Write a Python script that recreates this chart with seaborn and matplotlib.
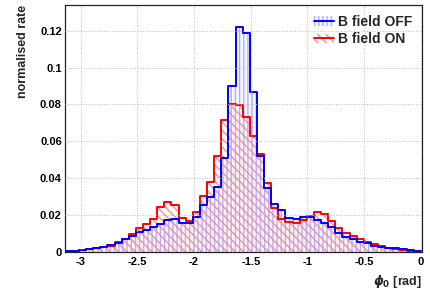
import numpy as np
import matplotlib
matplotlib.use("Agg")
import matplotlib.pyplot as plt
import seaborn as sns
from matplotlib.patches import Patch
from matplotlib.lines import Line2D
from matplotlib.legend_handler import HandlerTuple
from matplotlib.ticker import MultipleLocator, FormatStrFormatter

# 50 bins over [-pi, 0]
n_bins = 50
edges = list(np.linspace(-np.pi, 0, n_bins + 1))
centers = [0.5 * (a + b) for a, b in zip(edges[:-1], edges[1:])]

rate_off = [0.0002, 0.0004, 0.0008, 0.0012, 0.0018, 0.0023, 0.0035, 0.0048, 0.0066, 0.0084,
            0.0105, 0.0120, 0.0135, 0.0150, 0.0172, 0.0176, 0.0158, 0.0155, 0.0190, 0.0253,
            0.0295, 0.0349, 0.0506, 0.0901, 0.1218, 0.1188, 0.0869, 0.0520, 0.0347, 0.0257,
            0.0226, 0.0185, 0.0178, 0.0186, 0.0186, 0.0172, 0.0153, 0.0131, 0.0099, 0.0080,
            0.0066, 0.0053, 0.0045, 0.0032, 0.0027, 0.0020, 0.0017, 0.0012, 0.0008, 0.0004]

rate_on = [0.0003, 0.0005, 0.0009, 0.0015, 0.0022, 0.0025, 0.0033, 0.0050, 0.0066, 0.0094,
           0.0130, 0.0149, 0.0176, 0.0244, 0.0272, 0.0253, 0.0180, 0.0168, 0.0215, 0.0302,
           0.0380, 0.0517, 0.0715, 0.0803, 0.0795, 0.0733, 0.0630, 0.0530, 0.0371, 0.0235,
           0.0175, 0.0162, 0.0157, 0.0171, 0.0195, 0.0216, 0.0202, 0.0166, 0.0126, 0.0102,
           0.0086, 0.0068, 0.0053, 0.0041, 0.0030, 0.0022, 0.0015, 0.0010, 0.0005, 0.0003]

labels = ["B field OFF", "B field ON"]

sns.set_style("white")
plt.rcParams["font.family"] = ["Liberation Sans", "DejaVu Sans"]
plt.rcParams["font.weight"] = "bold"
plt.rcParams["mathtext.fontset"] = "dejavusans"

fig = plt.figure(figsize=(4.31, 2.96), dpi=100)
ax = fig.add_axes([0.150, 0.150, 0.829, 0.833])

hatch_on = "#ff8c8c"
hatch_off = "#b0b0ff"
fill_off = (0.94, 0.94, 1.0, 0.6)

# hatched fills (blue underneath, red hatch over it)
sns.histplot(x=centers, weights=rate_off, bins=edges, element="step", fill=True,
             color=hatch_off, facecolor=fill_off, edgecolor=hatch_off, linewidth=0,
             hatch="||||", ax=ax)
sns.histplot(x=centers, weights=rate_on, bins=edges, element="step", fill=True,
             color=hatch_on, facecolor="none", edgecolor=hatch_on, linewidth=0,
             hatch="\\\\\\\\", ax=ax)
# outlines
sns.histplot(x=centers, weights=rate_on, bins=edges, element="step", fill=False,
             color="#ff0000", linewidth=1.4, ax=ax)
sns.histplot(x=centers, weights=rate_off, bins=edges, element="step", fill=False,
             color="#0000ff", linewidth=1.4, ax=ax)

ax.set_xlim(-np.pi, 0.01)
ax.set_ylim(0, 0.134)

ax.xaxis.set_major_locator(MultipleLocator(0.5))
ax.xaxis.set_minor_locator(MultipleLocator(0.1))
ax.yaxis.set_major_locator(MultipleLocator(0.02))
ax.yaxis.set_minor_locator(MultipleLocator(0.005))
ax.yaxis.set_major_formatter(FormatStrFormatter("%g"))
ax.xaxis.set_major_formatter(FormatStrFormatter("%g"))

ax.tick_params(axis="both", which="both", direction="in", labelsize=8, colors="black")
ax.tick_params(axis="both", which="major", length=7, width=0.8)
ax.tick_params(axis="both", which="minor", length=3.5, width=0.8)
ax.tick_params(axis="x", pad=4)
ax.tick_params(axis="y", pad=2)

ax.grid(True, which="major", color="#bbbbbb", linestyle=":", linewidth=0.7)
ax.set_axisbelow(False)
for s in ax.spines.values():
    s.set_color("#222222")
    s.set_linewidth(0.9)

ax.set_xlabel(r"$\phi_0$ [rad]", fontsize=9, fontweight="bold", loc="right", labelpad=4)
ax.set_ylabel("normalised rate", fontsize=9, fontweight="bold", loc="top", labelpad=8)

h_off = (Patch(facecolor=fill_off, edgecolor=hatch_off, linewidth=0, hatch="||||"),
         Line2D([], [], color="#0000ff", linewidth=1.4))
h_on = (Patch(facecolor="none", edgecolor=hatch_on, linewidth=0, hatch="\\\\\\\\"),
        Line2D([], [], color="#ff0000", linewidth=1.4))
ax.legend([h_off, h_on], labels, handler_map={tuple: HandlerTuple(ndivide=1, pad=0)},
          loc="upper right", bbox_to_anchor=(1.0, 1.0), frameon=False, fontsize=10,
          handlelength=1.4, handletextpad=0.3, labelspacing=0.25, borderaxespad=0.3)

fig.savefig("out.png", dpi=100)
